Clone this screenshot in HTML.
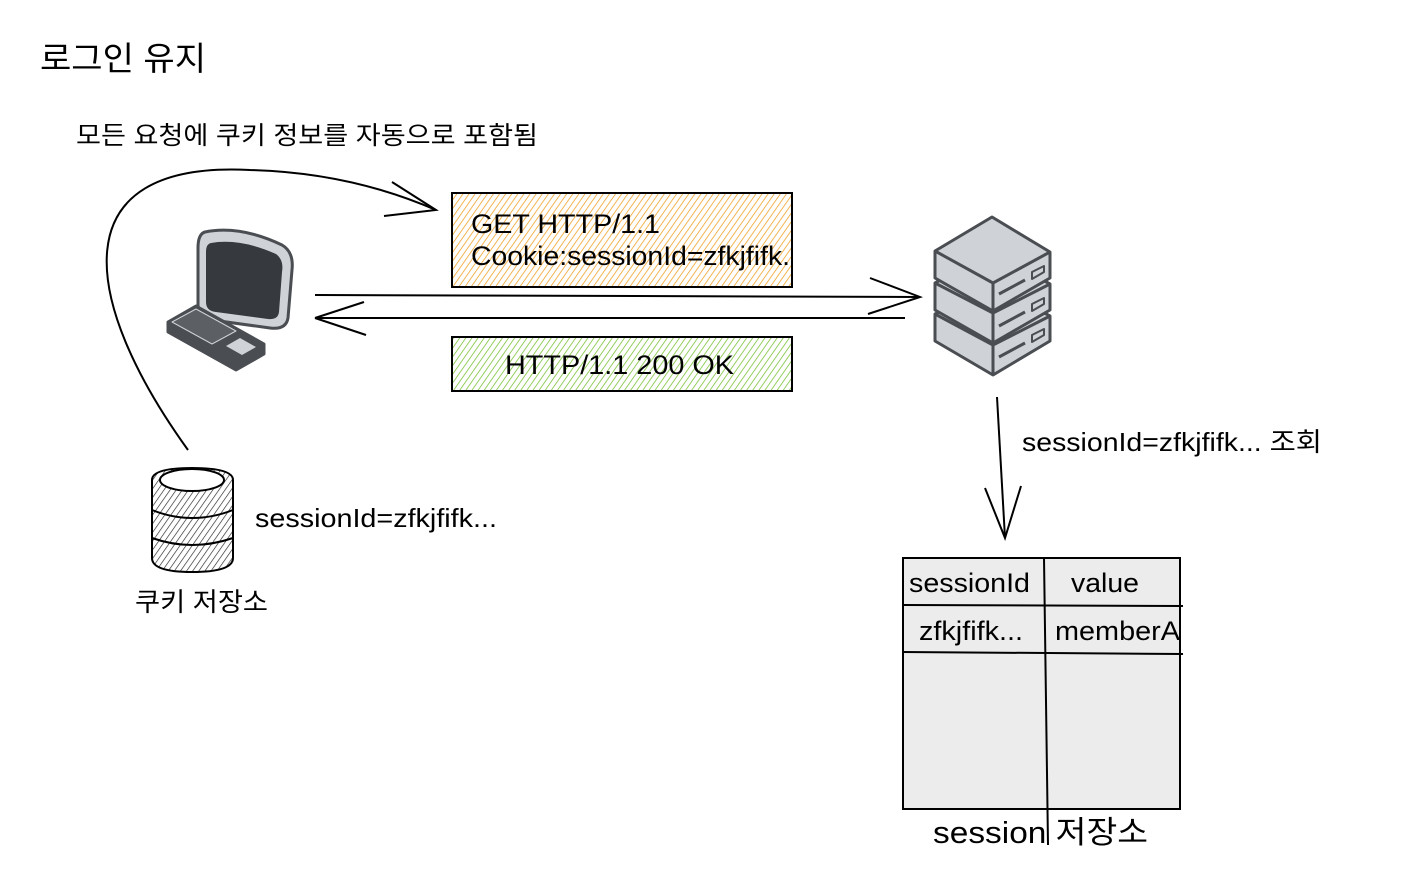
<!DOCTYPE html>
<html><head><meta charset="utf-8"><style>
html,body{margin:0;padding:0;background:#fff;}
svg{display:block;}
text{font-family:"Liberation Sans","Noto Sans CJK KR",sans-serif;fill:#000;}
</style></head><body>
<svg width="1420" height="870" viewBox="0 0 1420 870" xmlns="http://www.w3.org/2000/svg">
<defs>
<pattern id="ho" width="5" height="5" patternUnits="userSpaceOnUse" patternTransform="rotate(35)">
<line x1="0" y1="0" x2="0" y2="5" stroke="#f0a22a" stroke-width="1.6"/></pattern>
<pattern id="hg" width="5" height="5" patternUnits="userSpaceOnUse" patternTransform="rotate(35)">
<line x1="0" y1="0" x2="0" y2="5" stroke="#7cc23a" stroke-width="1.6"/></pattern>
<pattern id="hk" width="5" height="5" patternUnits="userSpaceOnUse" patternTransform="rotate(35)">
<line x1="0" y1="0" x2="0" y2="5" stroke="#222" stroke-width="1.3"/></pattern>
</defs>

<text x="40" y="70" font-size="33" textLength="166" lengthAdjust="spacingAndGlyphs">로그인 유지</text>
<text x="76" y="144" font-size="25" textLength="462" lengthAdjust="spacingAndGlyphs">모든 요청에 쿠키 정보를 자동으로 포함됨</text>

<!-- curved arrow -->
<path d="M188 450 C 80 300, 60 160, 250 170 C 330 172, 390 190, 436 210" fill="none" stroke="#000" stroke-width="2"/>
<path d="M392 182 L436 210 L384 216" fill="none" stroke="#000" stroke-width="2"/>

<!-- request box -->
<rect x="452" y="193" width="340" height="94" fill="url(#ho)" stroke="#000" stroke-width="2"/>
<text x="471" y="233" font-size="27" textLength="189" lengthAdjust="spacingAndGlyphs">GET HTTP/1.1</text>
<text x="471" y="265" font-size="27" textLength="319" lengthAdjust="spacingAndGlyphs">Cookie:sessionId=zfkjfifk.</text>

<!-- response box -->
<rect x="452" y="337" width="340" height="54" fill="url(#hg)" stroke="#000" stroke-width="2"/>
<text x="505" y="374" font-size="27" textLength="229" lengthAdjust="spacingAndGlyphs">HTTP/1.1 200 OK</text>

<!-- arrows -->
<line x1="315" y1="295" x2="920" y2="297" stroke="#000" stroke-width="2"/>
<path d="M870 278 L920 297 L868 314" fill="none" stroke="#000" stroke-width="2"/>
<line x1="318" y1="318" x2="905" y2="318" stroke="#000" stroke-width="2"/>
<path d="M315 318 L364 302 M315 318 L366 335" fill="none" stroke="#000" stroke-width="2"/>

<!-- computer -->
<g stroke="#4a4d52" stroke-width="3" stroke-linejoin="round">
<path d="M205 232 Q240 225 282 245 Q294 252 292 270 L288 318 Q286 330 270 328 L212 320 Q198 318 198 305 L198 248 Q198 234 205 232 Z" fill="#cfd2d6"/>
<path d="M211 243 Q240 238 276 254 Q284 260 282 272 L279 312 Q278 320 268 319 L216 312 Q206 311 206 302 L206 252 Q206 244 211 243 Z" fill="#36393d" stroke="none"/>
<path d="M168 322 L196 306 L264 344 L264 354 L236 370 L168 332 Z" fill="#4a4d52"/>
<path d="M172 322 L196 309 L236 331 L212 344 Z" fill="#5c5f64" stroke="#cfd2d6" stroke-width="1"/>
<path d="M226 346 L240 338 L256 347 L242 355 Z" fill="#cfd2d6" stroke="none"/>
</g>

<!-- server -->
<g stroke="#4a4d52" stroke-width="3" stroke-linejoin="round" fill="#cfd2d6">
<path d="M935 314 L992 285 L1050 316 L1050 341 L993 375 L935 341 Z"/>
<path d="M935 314 L993 345 L1050 316 M993 345 L993 375"/>
<path d="M935 283 L992 252 L1050 284 L1050 310 L993 343 L935 310 Z"/>
<path d="M935 283 L993 313 L1050 284 M993 313 L993 343"/>
<path d="M935 251 L992 217 L1050 252 L1050 278 L993 311 L935 278 Z"/>
<path d="M935 251 L993 283 L1050 252 M993 283 L993 311"/>
<path d="M999 294 L1025 280 M999 326 L1025 312 M999 357 L1025 343" fill="none"/>
<path d="M1032 272 L1044 266 L1044 272 L1032 279 Z M1032 304 L1044 298 L1044 304 L1032 311 Z M1032 335 L1044 329 L1044 335 L1032 342 Z" fill="none" stroke-width="2"/>
</g>

<!-- down arrow -->
<line x1="997" y1="397" x2="1005" y2="538" stroke="#000" stroke-width="2"/>
<path d="M985 488 L1005 538 L1021 486" fill="none" stroke="#000" stroke-width="2"/>
<text x="1022" y="451" font-size="26" textLength="300" lengthAdjust="spacingAndGlyphs">sessionId=zfkjfifk... 조회</text>

<!-- cookie db -->
<g stroke="#000" stroke-width="2">
<path d="M152 480 Q152 468 192 468 Q233 468 233 480 L233 558 Q233 572 192 572 Q152 572 152 558 Z" fill="url(#hk)"/>
<ellipse cx="192" cy="480" rx="32" ry="11" fill="#fff"/>
<path d="M152 510 Q192 526 233 510 M152 538 Q192 552 233 538" fill="none"/>
</g>
<text x="255" y="527" font-size="26" textLength="242" lengthAdjust="spacingAndGlyphs">sessionId=zfkjfifk...</text>
<text x="135" y="611" font-size="26" textLength="133" lengthAdjust="spacingAndGlyphs">쿠키 저장소</text>

<!-- session table -->
<rect x="903" y="558" width="277" height="251" fill="#ececec" stroke="#000" stroke-width="2"/>
<line x1="903" y1="605" x2="1183" y2="606" stroke="#000" stroke-width="2"/>
<line x1="902" y1="652" x2="1183" y2="654" stroke="#000" stroke-width="2"/>
<line x1="1044" y1="558" x2="1048" y2="845" stroke="#000" stroke-width="2"/>
<text x="909" y="592" font-size="27" textLength="121" lengthAdjust="spacingAndGlyphs">sessionId</text>
<text x="1071" y="592" font-size="27" textLength="68" lengthAdjust="spacingAndGlyphs">value</text>
<text x="919" y="640" font-size="27" textLength="104" lengthAdjust="spacingAndGlyphs">zfkjfifk...</text>
<text x="1055" y="640" font-size="27" textLength="125" lengthAdjust="spacingAndGlyphs">memberA</text>
<text x="933" y="843" font-size="31" textLength="215" lengthAdjust="spacingAndGlyphs">session 저장소</text>
</svg>
</body></html>
